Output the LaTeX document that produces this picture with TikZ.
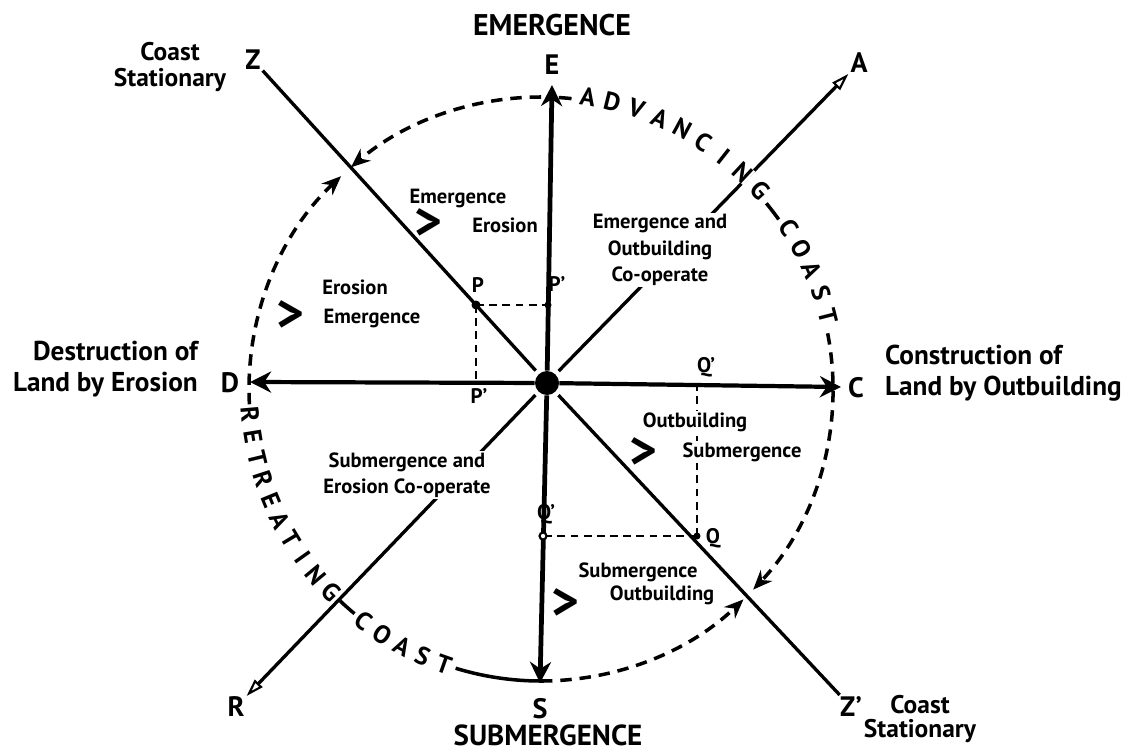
\documentclass[tikz,border=0pt]{standalone}
\usepackage{fontspec}
\setmainfont{PT Sans}
\usetikzlibrary{arrows.meta,calc,positioning}

\tikzset{
  axis/.style={line width=2.7pt, -{Stealth[length=12pt,width=12pt]}},
  diag/.style={line width=1.9pt, shorten <=2.5pt},
  opentip/.style={-{Triangle[open,length=10pt,width=6pt,line width=1.2pt]}},
  rim/.style={line width=2pt, dash pattern=on 6.5pt off 4.5pt},
  rimtip/.style={rim, -{Stealth[length=11pt,width=9pt]}},
  rimsolid/.style={line width=2pt},
  proj/.style={line width=1.6pt, dash pattern=on 4.5pt off 3pt},
  bigletter/.style={font=\fontsize{16}{18}\selectfont\bfseries, inner sep=1pt},
  sidetext/.style={font=\fontsize{15.5}{17.5}\selectfont\bfseries},
  regiontext/.style={font=\fontsize{11.7}{15}\selectfont\bfseries, align=center, fill=white, inner sep=1pt},
  gt/.style={font=\fontsize{30}{30}\selectfont\bfseries, inner sep=0pt},
  rimletter/.style={font=\fontsize{14.5}{14.5}\selectfont\bfseries, fill=white, inner sep=0pt},
  ptlbl/.style={font=\fontsize{12}{12}\selectfont\bfseries, inner sep=1pt},
}

\begin{document}
\begin{tikzpicture}[x=0.02cm, y=0.02cm]
  \useasboundingbox (0,0) rectangle (1141,-753);

  \coordinate (Cc) at (541,-389);
  \node[circle, fill=black, inner sep=0pt, minimum size=0.48cm] (O) at (547,-383) {};

  % end labels
  \node[bigletter] (E) at (552,-65) {E};
  \node[bigletter] (S) at (540,-709) {S};
  \node[bigletter] (D) at (230,-383) {D};
  \node[bigletter] (C) at (856,-388) {C};
  \node[bigletter] (Z) at (253,-60) {Z};
  \node[bigletter] (Zp) at (851,-707) {Z'};
  \node[bigletter] (A) at (859,-63) {A};
  \node[bigletter] (R) at (236,-707) {R};
  \coordinate (Etip) at (552,-85);
  \coordinate (Stip) at (540,-683);
  \coordinate (Dtip) at (250,-382);
  \coordinate (Ctip) at (841,-387);

  \node[bigletter, font=\fontsize{17}{19}\selectfont\bfseries] (emerg) at (552,-25) {EMERGENCE};
  \node[bigletter, font=\fontsize{16.5}{19}\selectfont\bfseries] (submerg) at (548,-735) {SUBMERGENCE};
  \node[sidetext, anchor=east, align=right] (destr) at (204,-369) {Destruction of\\Land by Erosion};
  \node[sidetext, anchor=west, align=left] (constr) at (879,-373) {Construction of\\Land by Outbuilding};
  \node[align=center, font=\fontsize{14.5}{14.5}\selectfont\bfseries] (statZ) at (170,-67) {Coast\\Stationary};
  \node[align=center, font=\fontsize{14.5}{14}\selectfont\bfseries] (statZp) at (920,-719) {Coast\\Stationary};

  % axes and diagonals
  \draw[axis] (O) -- (Etip);
  \draw[axis] (O) -- (Stip);
  \draw[axis, line width=2.4pt] (O) -- (Dtip);
  \draw[axis, line width=2.4pt] (O) -- (Ctip);
  \draw[diag] (O) -- (Z);
  \draw[diag] (O) -- (Zp);
  \draw[diag, opentip] (O) -- (A);
  \draw[diag, opentip] (O) -- (R);

  % projections of P and Q
  \coordinate (P) at (476,-305);
  \coordinate (P1) at (548,-305);
  \coordinate (P2) at (476,-383);
  \coordinate (Q) at (697,-536);
  \coordinate (Q1) at (543,-536);
  \coordinate (Q2) at (697,-383);
  \draw[proj] (P) -- (P1);
  \draw[proj] (P) -- (P2);
  \draw[proj] (Q) -- (Q2);
  \draw[proj] (Q) -- (Q1);
  \fill (P) circle (4.5);
  \fill (P1) circle (3.5);
  \fill (Q) circle (3.5);
  \draw[fill=white, line width=1.2pt] (Q1) circle (3.5);
  \node[ptlbl] (Plbl) at (478,-285) {P};
  \node[ptlbl] (P1lbl) at (557,-284) {P'};
  \node[ptlbl] (P2lbl) at (479,-396) {P'};
  \node[ptlbl] (Qlbl) at (713,-538) {Q};
  \node[ptlbl] (Q1lbl) at (546,-514) {Q'};
  \node[ptlbl] (Q2lbl) at (706,-367) {Q'};

  % the rim
  \draw[rimtip] ($(Cc)+(90:292)$) arc[start angle=90, end angle=130.6, radius=292];
  \draw[rimtip] ($(Cc)+(183:292)$) arc[start angle=183, end angle=133.2, radius=292];
  \draw[rimtip] ($(Cc)+(270:292)$) arc[start angle=270, end angle=313.9, radius=292];
  \draw[rimtip] ($(Cc)+(11:292)$) arc[start angle=11, end angle=-43.4, radius=292];
  \draw[rimsolid] ($(Cc)+(86.5:292)$) arc[start angle=86.5, end angle=84, radius=292];
  \draw[rimsolid] ($(Cc)+(39.5:292)$) arc[start angle=39.5, end angle=35.5, radius=292];
  \draw[rimsolid] ($(Cc)+(226.5:292)$) arc[start angle=226.5, end angle=230.3, radius=292];
  \draw[rimsolid] ($(Cc)+(253:292)$) arc[start angle=253, end angle=270, radius=292];

  \foreach \ch [count=\k from 0] in {A,D,V,A,N,C,I,N,G} {
    \pgfmathsetmacro{\ang}{80.9-4.85*\k}
    \pgfmathsetmacro{\rot}{\ang-90}
    \node[rimletter, rotate=\rot] (adv\k) at ($(Cc)+(\ang:296)$) {\ch};
  }
  \foreach \ch [count=\k from 0] in {C,O,A,S,T} {
    \pgfmathsetmacro{\ang}{33-4.675*\k}
    \pgfmathsetmacro{\rot}{\ang-90}
    \node[rimletter, rotate=\rot] (advc\k) at ($(Cc)+(\ang:296)$) {\ch};
  }
  \foreach \ch [count=\k from 0] in {R,E,T,R,E,A,T,I,N,G} {
    \pgfmathsetmacro{\ang}{185+4.33*\k}
    \pgfmathsetmacro{\rot}{\ang+90}
    \node[rimletter, rotate=\rot] (ret\k) at ($(Cc)+(\ang:292)$) {\ch};
  }
  \foreach \ch [count=\k from 0] in {C,O,A,S,T} {
    \pgfmathsetmacro{\ang}{232.6+4.5*\k}
    \pgfmathsetmacro{\rot}{\ang+90}
    \node[rimletter, rotate=\rot] (retc\k) at ($(Cc)+(\ang:292)$) {\ch};
  }

  % the four sectors
  \node[regiontext] (emA) at (458,-198) {Emergence};
  \node[regiontext] (erA) at (505,-225) {Erosion};
  \node[gt] (gtA) at (428,-224) {>};
  \node[regiontext] (erB) at (355,-287) {Erosion};
  \node[regiontext] (emB) at (372,-318) {Emergence};
  \node[gt] (gtB) at (290,-316) {>};
  \node[regiontext] (obC) at (695,-422) {Outbuilding};
  \node[regiontext] (smC) at (742,-452) {Submergence};
  \node[gt] (gtC) at (643,-453) {>};
  \node[regiontext] (smD) at (638,-572) {Submergence};
  \node[regiontext] (obD) at (662,-595) {Outbuilding};
  \node[gt] (gtD) at (565,-604) {>};
  \node[regiontext] (coopUp) at (660,-250) {Emergence and\\Outbuilding\\Co-operate};
  \node[regiontext] (coopDn) at (407,-475) {Submergence and\\Erosion Co-operate};
\end{tikzpicture}
\end{document}
